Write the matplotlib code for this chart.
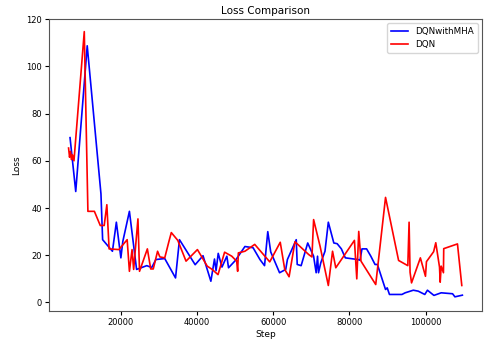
import matplotlib
matplotlib.use("Agg")
import matplotlib.pyplot as plt

# DQNwithMHA loss
mha_step = [6764, 8256, 11265, 14866, 15303, 17875, 18904, 20087, 20602, 22325,
            24203, 26877, 28163, 29269, 31584, 34413, 35442, 39557, 41615, 43673,
            44624, 45036, 45602, 46579, 47865, 48302, 50103, 52597, 54732, 56532,
            57741, 58590, 59362, 61677, 63297, 63734, 66049, 66306, 67335, 69058,
            70601, 71270, 71630, 71887, 72479, 73585, 74459, 75900, 76774, 77880,
            78909, 82175, 82767, 83281, 84490, 85596, 86702, 87319, 88605, 89454,
            89891, 90483, 93749, 94598, 96733, 98019, 99742, 100437, 102134, 104037,
            107021, 107638, 109593]
mha_loss = [69.8, 47.0, 108.7, 46.0, 26.6, 21.7, 34.0, 18.9, 25.9, 38.6,
            14.0, 15.6, 14.8, 18.2, 18.6, 10.4, 26.6, 16.0, 19.8, 9.0,
            18.4, 13.5, 20.8, 15.0, 19.6, 14.7, 17.8, 23.7, 23.2, 18.2,
            15.6, 30.0, 21.4, 12.6, 14.0, 18.2, 26.6, 16.1, 15.6, 25.2,
            19.6, 12.6, 19.6, 12.6, 16.8, 21.7, 34.0, 25.2, 24.9, 22.7,
            18.9, 18.2, 17.9, 22.7, 22.7, 19.6, 16.1, 16.1, 9.7, 5.5,
            6.2, 3.4, 3.4, 4.1, 5.2, 4.8, 3.4, 5.2, 3.0, 4.1,
            3.7, 2.4, 3.1]

# DQN loss
dqn_step = [6379, 6636, 6893, 7150, 7407, 7793, 10494, 11445, 13143, 14686,
            15715, 16409, 17001, 19573, 21733, 22325, 23019, 23431, 24563, 24974,
            27031, 27906, 28575, 29707, 30298, 31584, 32690, 33307, 35005, 37165,
            40149, 42721, 44007, 45550, 47273, 49151, 50437, 50694, 50874, 52597,
            55169, 59105, 61857, 63040, 64171, 65715, 69315, 70164, 70601, 72299,
            74459, 75565, 76414, 81301, 81918, 82433, 83024, 86882, 89454, 92875,
            95293, 95627, 95884, 96268, 98585, 99922, 100180, 102057, 102623, 103600,
            103780, 104037, 104629, 104706, 108307, 109439]
dqn_loss = [65.4, 61.5, 64.0, 60.5, 62.5, 60.0, 114.7, 38.6, 38.6, 32.6,
            32.6, 41.4, 22.7, 22.4, 26.6, 13.2, 22.4, 14.0, 35.4, 13.2,
            22.7, 14.2, 14.2, 21.7, 19.3, 18.9, 25.9, 29.6, 26.3, 17.5,
            22.4, 15.4, 14.0, 11.8, 21.3, 19.6, 17.5, 13.2, 21.0, 21.7,
            24.6, 17.2, 25.5, 14.0, 10.9, 25.7, 20.3, 19.3, 35.1, 23.8,
            7.2, 21.7, 14.7, 26.3, 10.0, 30.1, 17.5, 7.6, 44.5, 17.8,
            15.6, 34.0, 12.8, 8.3, 18.9, 11.1, 17.3, 21.5, 25.3, 15.0,
            8.6, 15.4, 12.6, 22.8, 24.8, 7.2]

fig = plt.figure(figsize=(4.84, 3.41), dpi=100)
ax = fig.add_axes([0.101, 0.088, 0.895, 0.856])

ax.plot(mha_step, mha_loss, color='blue', linewidth=1.2, label='DQNwithMHA')
ax.plot(dqn_step, dqn_loss, color='red', linewidth=1.2, label='DQN')

ax.set_title('Loss Comparison', fontsize=7.5, pad=4)
ax.set_xlabel('Step', fontsize=6.5, labelpad=2)
ax.set_ylabel('Loss', fontsize=6.5, labelpad=4)
ax.tick_params(labelsize=6, length=3, pad=2)
ax.set_ylim(-3.6, 120)
ax.set_yticks([0, 20, 40, 60, 80, 100, 120])
for s in ax.spines.values():
    s.set_color('#555555')
ax.legend(loc='upper right', fontsize=6.3)

fig.savefig('out.png', dpi=100)
